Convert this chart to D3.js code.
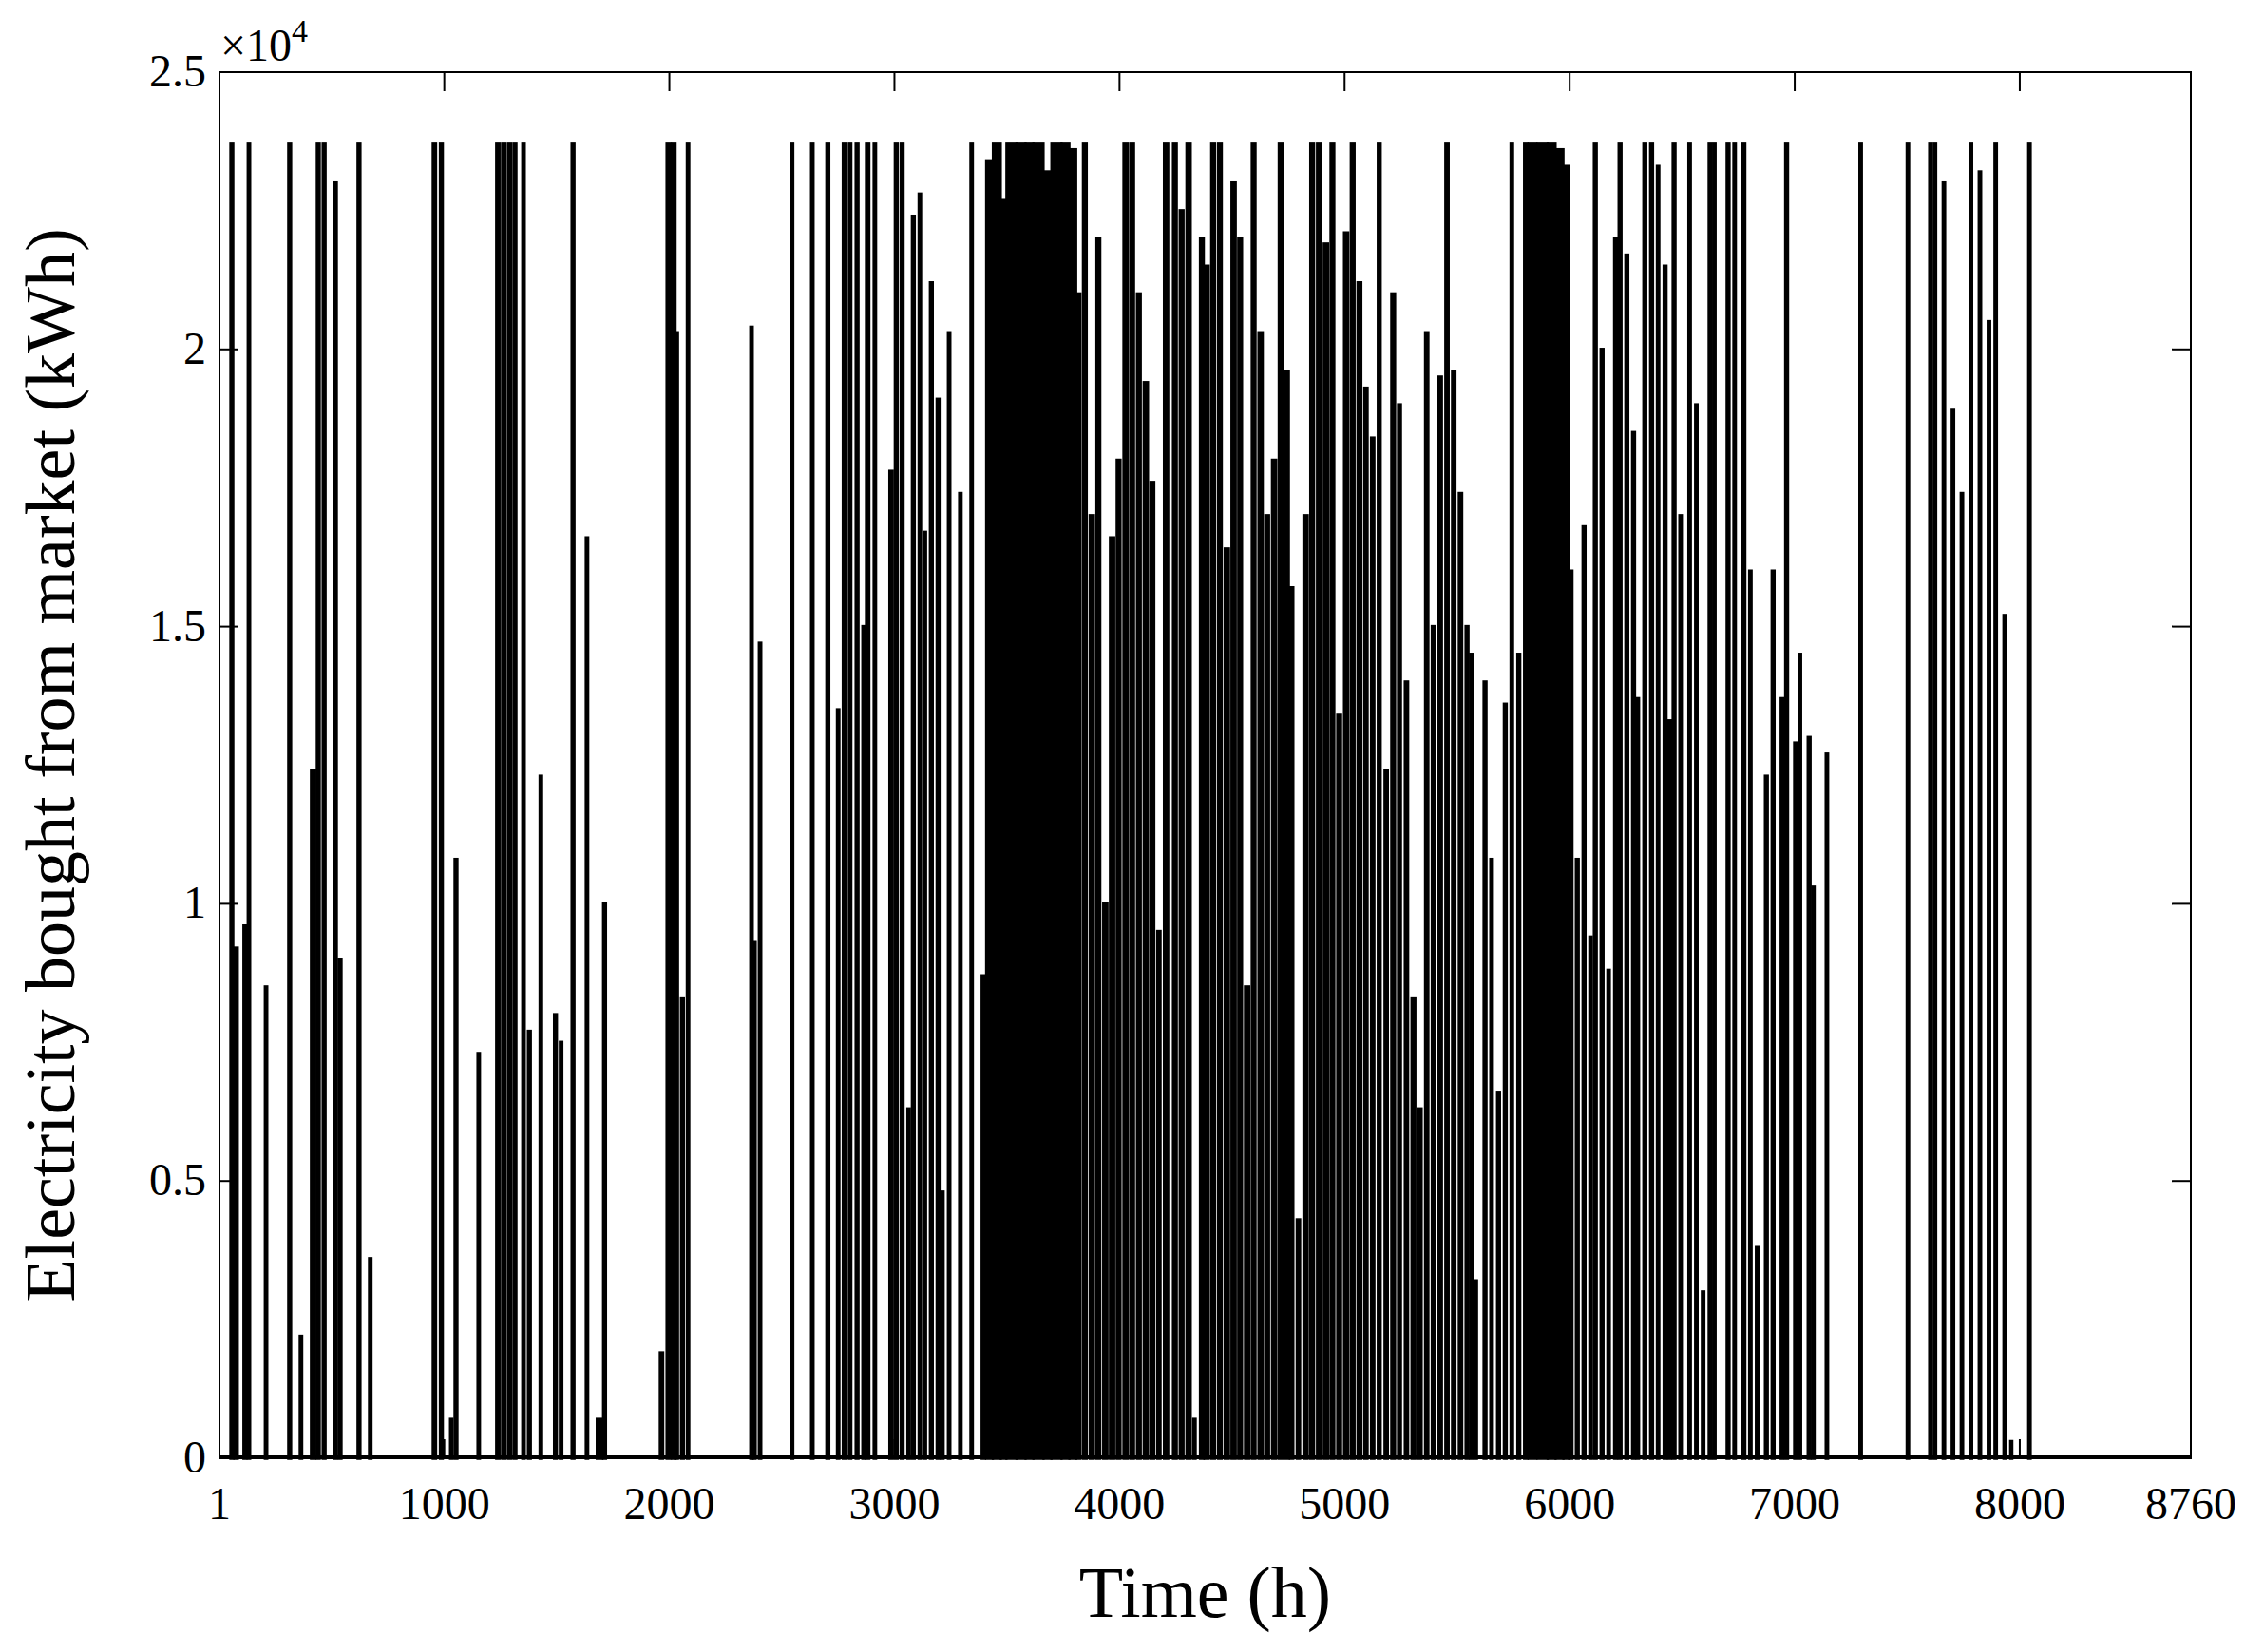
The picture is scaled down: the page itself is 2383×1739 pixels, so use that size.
<!DOCTYPE html>
<html><head><meta charset="utf-8">
<script src="https://cdn.jsdelivr.net/npm/d3@7"></script>
<style>body{margin:0;background:#fff}</style></head>
<body><svg id="c" width="2383" height="1739"></svg>
<script>
const xTicks=[1,1000,2000,3000,4000,5000,6000,7000,8000,8760];
const yTicks=[0,0.5,1,1.5,2,2.5];
// pulses: [start hour, duration hours, value kWh]
const pulses=[[52,8,23700],[70,10,9200],[110,8,9600],[129,6,23700],[205,6,8500],[309,8,23700],[360,6,2200],[410,14,12400],[436,8,23700],[462,8,23700],[514,6,23000],[533,8,9000],[617,8,23700],[668,6,3600],[951,10,23700],[983,8,23700],[1028,6,700],[1048,8,10800],[1150,6,7300],[1233,10,23700],[1259,10,23700],[1285,10,23700],[1310,8,23700],[1349,6,23700],[1374,8,7700],[1426,6,12300],[1490,8,8000],[1516,6,7500],[1568,8,23700],[1631,6,16600],[1708,8,10000],[1680,20,700],
[1960,10,1900],[1990,14,23700],[2015,10,23700],[2028,8,20300],[2054,8,8300],[2080,6,23700],[2362,6,20400],[2375,6,9300],[2400,6,14700],[2542,6,23700],[2632,6,23700],[2700,8,23700],[2747,6,13500],[2773,8,23700],[2800,6,23700],[2830,8,23700],[2860,6,15000],[2876,10,23700],[2910,6,23700],[2980,10,17800],[3004,8,23700],[3030,8,23700],[3060,6,6300],[3080,8,22400],[3110,6,22800],[3132,6,16700],[3160,8,21200],[3190,8,19100],[3210,6,4800],[3240,6,20300],[3290,6,17400],[3340,6,23700],
[3390,10,8700],[3410,25,23400],[3440,30,23700],[3475,20,22700],[3500,40,23700],[3545,35,23700],[3585,30,23700],[3620,40,23700],[3665,30,23200],[3700,40,23700],[3745,30,23700],[3780,25,23600],[3810,14,21000],[3840,12,23700],[3870,14,17000],[3900,12,22000],[3930,14,10000],[3960,14,16600],[3990,12,18000],[4020,14,23700],[4050,12,23700],[4080,12,21000],[4110,14,19400],[4140,12,17600],[4170,10,9500],[4200,14,23700],[4240,12,23700],[4270,12,22500],[4300,14,23700],[4330,6,700],[4360,12,22000],[4380,14,21500],[4410,12,23700],[4440,12,23700],[4470,14,16400],[4500,14,23000],[4530,12,22000],[4560,14,8500],[4590,12,23700],[4620,14,20300],[4650,12,17000],[4680,14,18000],[4710,12,23700],[4740,10,19600],[4760,10,15700],[4790,10,4300],[4820,14,17000],[4850,12,23700],[4880,14,23700],[4910,14,21900],[4940,12,23700],[4970,12,13400],[5000,14,22100],[5030,12,23700],[5060,12,21200],[5090,10,19300],[5120,10,18400],[5150,8,23700],[5180,10,12400],[5210,12,21000],[5240,8,19000],[5270,10,14000],[5300,12,8300],[5330,10,6300],[5360,10,20300],[5390,8,15000],[5420,10,19500],[5450,10,23700],[5480,10,19600],[5510,10,17400],[5540,8,15000],[5560,6,14500],[5580,6,3200],[5620,8,14000],[5650,6,10800],[5680,8,6600],[5710,8,13600],[5740,6,23700],[5770,8,14500],[5800,10,23700],[5820,30,23700],[5860,40,23700],[5905,30,23700],[5940,30,23600],[5975,20,23300],[6000,10,16000],[6030,8,10800],[6060,8,16800],[6090,6,9400],[6110,8,23700],[6140,8,20000],[6170,6,8800],[6200,8,22000],[6220,8,23700],[6250,8,21700],[6280,8,18500],[6300,6,13700],[6330,8,23700],[6360,8,23700],[6390,6,23300],[6420,8,21500],[6440,8,13300],[6460,8,23700],[6490,6,17000],[6530,6,23700],[6560,6,19000],[6590,6,3000],[6620,6,23700],[6640,6,23700],[6700,8,23700],[6730,6,23700],[6770,8,23700],[6800,6,16000],[6830,8,3800],[6870,8,12300],[6900,8,16000],[6940,6,13700],[6960,8,23700],[7000,6,12900],[7020,6,14500],[7060,8,13000],[7080,6,10300],[7140,6,12700],
[7290,6,23700],[7500,6,23700],[7600,6,23700],[7620,6,23700],[7660,6,23000],[7700,6,18900],[7740,6,17400],[7780,6,23700],[7820,6,23200],[7860,6,20500],[7890,6,23700],[7930,6,15200],[7960,4,300],[8040,6,23700]];

const svg=d3.select("#c");
const L=231,R=2306,T=76,B=1535;
const x=d3.scaleLinear().domain([1,8760]).range([L,R]);
const y=d3.scaleLinear().domain([0,25000]).range([B,T]);
const font="Liberation Serif, Times New Roman, serif";
const g=svg.append("g");
g.selectAll("rect.p").data(pulses).join("rect")
 .attr("x",d=>x(d[0])).attr("width",d=>Math.max(1,x(d[0]+d[1])-x(d[0])))
 .attr("y",d=>y(d[2])).attr("height",d=>y(0)-y(d[2]))
 .attr("fill","#000").attr("stroke","#000").attr("stroke-width",3.5);
svg.append("line").attr("x1",L).attr("x2",R).attr("y1",B-1).attr("y2",B-1).attr("stroke","#000").attr("stroke-width",4);
svg.append("rect").attr("x",L).attr("y",T).attr("width",R-L).attr("height",B-T).attr("fill","none").attr("stroke","#000").attr("stroke-width",2);
const tl=20;
xTicks.forEach(t=>{
 const xx=x(t);
 svg.append("line").attr("x1",xx).attr("x2",xx).attr("y1",B).attr("y2",B-tl).attr("stroke","#000").attr("stroke-width",2);
 svg.append("line").attr("x1",xx).attr("x2",xx).attr("y1",T).attr("y2",T+tl).attr("stroke","#000").attr("stroke-width",2);
 svg.append("text").attr("x",xx).attr("y",B+64).attr("text-anchor","middle").attr("font-family",font).attr("font-size",48).text(t);
});
yTicks.forEach(t=>{
 const yy=y(t*10000);
 svg.append("line").attr("x1",L).attr("x2",L+tl).attr("y1",yy).attr("y2",yy).attr("stroke","#000").attr("stroke-width",2);
 svg.append("line").attr("x1",R).attr("x2",R-tl).attr("y1",yy).attr("y2",yy).attr("stroke","#000").attr("stroke-width",2);
 svg.append("text").attr("x",L-14).attr("y",yy+15).attr("text-anchor","end").attr("font-family",font).attr("font-size",48).text(t);
});
const ex=svg.append("text").attr("x",232).attr("y",64).attr("font-family",font).attr("font-size",48);
ex.append("tspan").text("×10");
ex.append("tspan").attr("dy",-20).attr("font-size",34).text("4");
svg.append("text").attr("x",(L+R)/2).attr("y",1702).attr("text-anchor","middle").attr("font-family",font).attr("font-size",76).text("Time (h)");
svg.append("text").attr("transform",`translate(78,${(T+B)/2}) rotate(-90)`).attr("text-anchor","middle").attr("font-family",font).attr("font-size",74).text("Electricity bought from market (kWh)");
</script></body></html>
